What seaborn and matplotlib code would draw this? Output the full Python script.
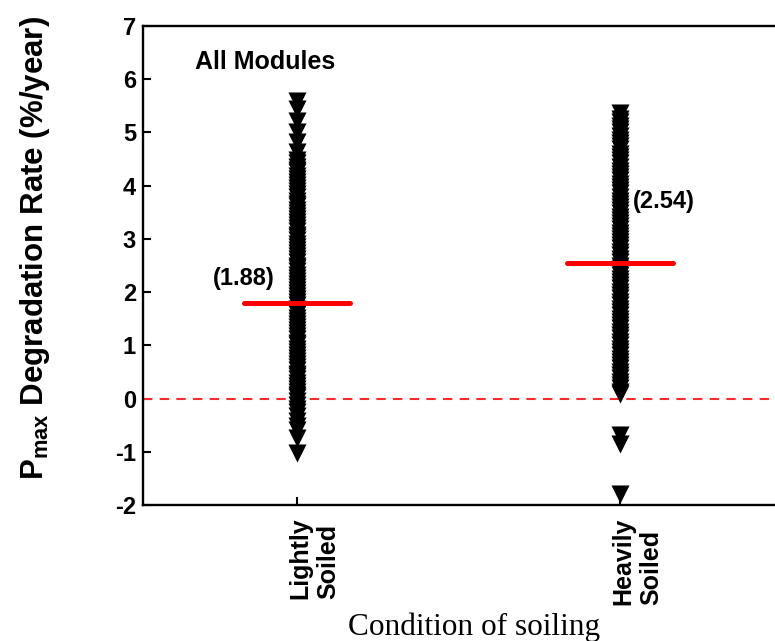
import numpy as np
import pandas as pd
import matplotlib
matplotlib.use("Agg")
import matplotlib.pyplot as plt
from matplotlib.transforms import ScaledTranslation
import seaborn as sns

# ---- data ----
categories = ["Lightly\nSoiled", "Heavily\nSoiled"]
lightly_rates = [5.60, 5.45, 5.22, 5.01, 4.82, 4.64, 4.48,
                 4.42, 4.36, 4.30, 4.25, 4.19, 4.13, 4.07, 4.01, 3.95, 3.90,
                 3.84, 3.78, 3.72, 3.66, 3.61, 3.55, 3.49, 3.43, 3.37, 3.32,
                 3.26, 3.20, 3.14, 3.08, 3.03, 2.97, 2.91, 2.85, 2.79, 2.74,
                 2.68, 2.62, 2.56, 2.50, 2.45, 2.39, 2.33, 2.27, 2.21, 2.16,
                 2.10, 2.04, 1.98, 1.92, 1.87, 1.81, 1.75, 1.69, 1.63, 1.58,
                 1.52, 1.46, 1.40, 1.34, 1.29, 1.23, 1.17, 1.11, 1.05, 1.00,
                 0.94, 0.88, 0.82, 0.76, 0.71, 0.65, 0.59, 0.53, 0.47, 0.42,
                 0.36, 0.30, 0.24, 0.18, 0.13, 0.07, 0.02,
                 -0.05, -0.12, -0.19, -0.26, -0.33, -0.42, -0.51, -0.60,
                 -0.74, -1.03]
heavily_rates = [5.37, 5.26, 5.19, 5.13, 5.07, 5.00, 4.94, 4.86, 4.80, 4.74,
                 4.68, 4.60, 4.54, 4.48, 4.42, 4.36, 4.28, 4.22, 4.16, 4.10,
                 4.04, 3.98, 3.92, 3.86, 3.78, 3.72, 3.66, 3.60, 3.54, 3.48,
                 3.42, 3.36, 3.30, 3.24, 3.18, 3.12, 3.06, 3.00, 2.94, 2.88,
                 2.82, 2.75, 2.69, 2.63, 2.57, 2.50, 2.44, 2.38, 2.32, 2.25,
                 2.19, 2.13, 2.07, 2.00, 1.94, 1.88, 1.82, 1.75, 1.69, 1.63,
                 1.57, 1.50, 1.44, 1.38, 1.32, 1.25, 1.19, 1.13, 1.07, 1.00,
                 0.94, 0.88, 0.82, 0.75, 0.69, 0.63, 0.57, 0.50, 0.44, 0.38,
                 0.32, 0.25, 0.19, 0.13, 0.08,
                 -0.69, -0.86, -1.80]
mean_rates = [1.79, 2.54]
mean_labels = ["(1.88)", "(2.54)"]
y_ticks = [-2, -1, 0, 1, 2, 3, 4, 5, 6, 7]

# ---- style ----
sns.set_theme(style="white")
plt.rcParams["font.family"] = ["Liberation Sans", "DejaVu Sans"]
plt.rcParams["axes.unicode_minus"] = False
plt.rcParams["mathtext.fontset"] = "custom"
plt.rcParams["mathtext.rm"] = "Liberation Sans"
plt.rcParams["mathtext.bf"] = "Liberation Sans:bold"
for key in ["text.color", "axes.labelcolor", "xtick.color", "ytick.color"]:
    plt.rcParams[key] = "black"

fig = plt.figure(figsize=(7.75, 6.41), dpi=100)
ax = fig.add_axes([0.1845, 0.2122, 0.8155, 0.7472])

df = pd.DataFrame({
    "cond": [categories[0]] * len(lightly_rates) + [categories[1]] * len(heavily_rates),
    "rate": lightly_rates + heavily_rates,
})
sns.stripplot(data=df, x="cond", y="rate", order=categories, jitter=False,
              marker="v", color="black", size=13, linewidth=0, ax=ax, zorder=2)

ax.axhline(0, color="#ff2a2a", lw=1.5, ls=(0, (4.5, 3.5)), zorder=1)
positions = np.arange(len(categories))
ax.hlines(mean_rates, positions - 0.163, positions + 0.163, colors="#ff0000",
          lw=3.6, capstyle="round", zorder=3)

ax.set_xlim(-0.477, 1.48)
ax.set_ylim(-2, 7)
ax.set_yticks(y_ticks)
ax.set_yticklabels([str(t) for t in y_ticks], fontweight="bold", fontsize=17)
ax.set_xticks(positions)
ax.set_xticklabels(categories, rotation=90, fontweight="bold", fontsize=18,
                   multialignment="left")
ax.set_xlabel("")
ax.set_ylabel("")

ax.tick_params(axis="both", direction="in", length=6, width=1.5, color="black")
ax.tick_params(axis="y", pad=5, left=True)
ax.tick_params(axis="x", pad=9, bottom=True)
for lab in ax.get_xticklabels():
    lab.set_transform(lab.get_transform() + ScaledTranslation(0.17, 0, fig.dpi_scale_trans))

for side in ["left", "top", "bottom"]:
    ax.spines[side].set_color("black")
    ax.spines[side].set_linewidth(1.7)
ax.spines["right"].set_visible(False)

ax.text(-0.099, 6.33, "All Modules", ha="center", va="center",
        fontweight="bold", fontsize=18)
label_dx = [-0.164, 0.136]
label_y = [2.26, 3.70]
for i, txt in enumerate(mean_labels):
    ax.text(positions[i] + label_dx[i], label_y[i], txt, ha="center", va="center",
            fontweight="bold", fontsize=17)

fig.text(35 / 775, 1 - 248 / 641, r"$\mathbf{P_{max}}$ Degradation Rate (%/year)",
         rotation=90, ha="center", va="center", fontsize=22.5, fontweight="bold")
fig.text(474 / 775, 6 / 641, "Condition of soiling", ha="center", va="baseline",
         fontsize=22.5, family=["Liberation Serif", "DejaVu Serif"])

fig.savefig("out.png", dpi=100)
